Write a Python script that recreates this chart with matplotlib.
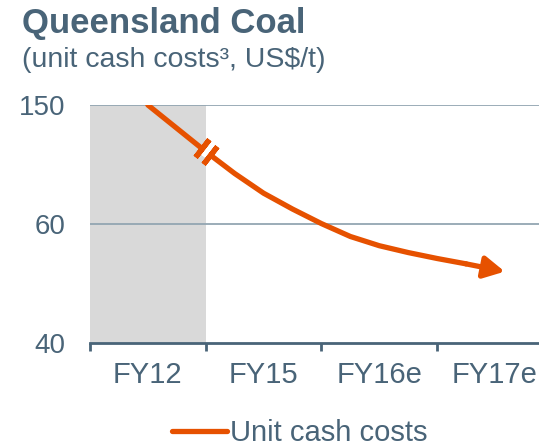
import numpy as np
import matplotlib
matplotlib.use("Agg")
import matplotlib.pyplot as plt
from matplotlib import transforms

# categories on the x axis
categories = ["FY12", "FY15", "FY16e", "FY17e"]
# y axis is broken: 40 -> 60 -> 150 are equally spaced
y_ticks = [40, 60, 150]

# curve readings (x in category units, 0 = left edge of FY12 band)
curve_x = [0.5, 0.75, 1.0, 1.25, 1.5, 1.75, 2.0, 2.25, 2.5, 2.75, 3.0, 3.25, 3.584]
curve_y = [150, 132.4, 114.8, 98.2, 83.3, 71.3, 60.3, 57.9, 56.35, 55.2, 54.2, 53.3, 52.0]
break_x = 1.0
break_y = 114.8

orange = "#E65100"
slate = "#496478"
grid_col = "#93A6B2"
shade = "#D9D9D9"
font = "Liberation Sans"

plt.rcParams["font.family"] = [font, "DejaVu Sans"]

fig = plt.figure(figsize=(5.39, 4.46), dpi=100)
ax = fig.add_axes([90 / 539, 103 / 446, 449 / 539, 238 / 446])


def fwd(v):
    return np.interp(v, y_ticks, [0, 1, 2])


def inv(v):
    return np.interp(v, [0, 1, 2], y_ticks)


ax.set_yscale("function", functions=(fwd, inv))
ax.set_ylim(40, 150)
ax.set_xlim(0, 3.88)

# grey band for FY12
ax.axvspan(0, 1, color=shade, lw=0, zorder=0)

# gridlines
for v in y_ticks[1:]:
    ax.axhline(v, color=grid_col, lw=1.3, zorder=1)

# curve + arrow head
ax.plot(curve_x[:-1], curve_y[:-1], color=orange, lw=3.8,
        solid_capstyle="round", solid_joinstyle="round", zorder=3,
        label="Unit cash costs")
ax.annotate("", xy=(curve_x[-1], curve_y[-1]), xytext=(curve_x[-2], curve_y[-2]),
            arrowprops=dict(arrowstyle="-|>,head_length=0.62,head_width=0.33",
                            mutation_scale=20, color=orange, lw=3.8,
                            shrinkA=0, shrinkB=0), zorder=3)

# break symbol on the line
p0 = ax.transData.transform((curve_x[1], curve_y[1]))
p1 = ax.transData.transform((curve_x[3], curve_y[3]))
ang = np.degrees(np.arctan2(p1[1] - p0[1], p1[0] - p0[0]))
ux, uy = np.cos(np.radians(ang)), np.sin(np.radians(ang))
ax.plot([break_x], [break_y], marker=(2, 2, ang - 90), ms=8, mew=7,
        color="white", zorder=4)
for s in (-1, 1):
    off = transforms.ScaledTranslation(s * ux * 5 / 100, s * uy * 5 / 100,
                                       fig.dpi_scale_trans)
    ax.plot([break_x], [break_y], marker=(2, 2, ang), ms=16, mew=3.8,
            color=orange, zorder=5, transform=ax.transData + off)

# axes styling
for side in ["top", "right", "left"]:
    ax.spines[side].set_visible(False)
ax.spines["bottom"].set_color(slate)
ax.spines["bottom"].set_linewidth(2)

ax.set_xticks(range(len(categories)))
ax.set_xticklabels([])
ax.tick_params(axis="x", which="major", direction="out", length=6, width=2,
               color=slate)
ax.set_xticks(np.arange(len(categories)) + 0.5, minor=True)
ax.set_xticklabels(categories, minor=True)
ax.tick_params(axis="x", which="minor", length=0, pad=13, labelsize=21,
               labelcolor=slate)

ax.set_yticks(y_ticks)
ax.set_yticklabels([str(v) for v in y_ticks])
ax.yaxis.set_minor_locator(matplotlib.ticker.NullLocator())
ax.tick_params(axis="y", length=0, pad=18, labelsize=20, labelcolor=slate)

# titles
fig.text(22 / 539, 1 - 33 / 446, "Queensland Coal", fontsize=25,
         fontweight="bold", color=slate, va="baseline")
fig.text(22 / 539, 1 - 67 / 446, "(unit cash costs\u00b3, US$/t)", fontsize=20.5,
         color=slate, va="baseline")

leg = ax.legend(loc="center", bbox_to_anchor=(300 / 539, 1 - 433 / 446),
                bbox_transform=fig.transFigure, frameon=False, fontsize=21,
                handlelength=1.9, handletextpad=0.1, labelcolor=slate)

fig.savefig("out.png", dpi=100)
